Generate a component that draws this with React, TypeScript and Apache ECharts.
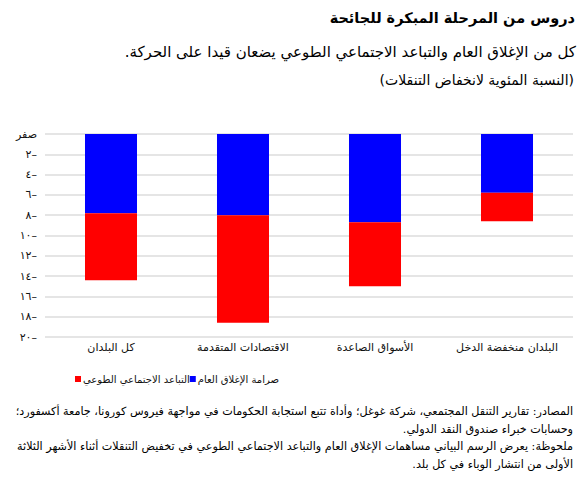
import React, { useEffect, useRef } from "react";
import * as echarts from "echarts";

const categories = [
  "كل البلدان",
  "الاقتصادات المتقدمة",
  "الأسواق الصاعدة",
  "البلدان منخفضة الدخل",
];
const lockdownValues = [-7.8, -8.0, -8.7, -5.8];
const voluntaryValues = [-6.6, -10.6, -6.3, -2.8];

const seriesNames = ["صرامة الإغلاق العام", "التباعد الاجتماعي الطوعي"];

const titleText = "دروس من المرحلة المبكرة للجائحة";
const subtitleText = "كل من الإغلاق العام والتباعد الاجتماعي الطوعي يضعان قيدا على الحركة.\u200F";
const unitText = "(النسبة المئوية لانخفاض التنقلات)";
const noteLines = [
  "المصادر: تقارير التنقل المجتمعي، شركة غوغل؛ وأداة تتبع استجابة الحكومات في مواجهة فيروس كورونا، جامعة أكسفورد؛",
  "وحسابات خبراء صندوق النقد الدولي.\u200F",
  "ملحوظة: يعرض الرسم البياني مساهمات الإغلاق العام والتباعد الاجتماعي الطوعي في تخفيض التنقلات أثناء الأشهر الثلاثة",
  "الأولى من انتشار الوباء في كل بلد.\u200F",
];

const FONT = '"DejaVu Sans", Arial, sans-serif';

const arabicDigits = ["٠", "١", "٢", "٣", "٤", "٥", "٦", "٧", "٨", "٩"];
const toArabic = (n: number) =>
  String(n)
    .split("")
    .map((c) => (c >= "0" && c <= "9" ? arabicDigits[+c] : c))
    .join("");

export default function App() {
  const ref = useRef<HTMLDivElement>(null);
  useEffect(() => {
    document.body.style.margin = "0";
    const chart = echarts.init(ref.current!, undefined, { renderer: "svg" });
    const noteY = [411, 429, 446, 464];
    const txt = (text: string, x: number, y: number, font: string) => ({
      type: "text",
      x,
      y,
      style: {
        text,
        font,
        fill: "#000",
        textAlign: "right",
        align: "right",
        textVerticalAlign: "middle",
        verticalAlign: "middle",
      },
    });
    chart.setOption({
      animation: false,
      backgroundColor: "#ffffff",
      textStyle: { fontFamily: FONT },
      grid: { left: 45, right: 13, top: 134, bottom: 156, containLabel: false },
      legend: {
        data: [seriesNames[1], seriesNames[0]],
        left: 75,
        top: 374,
        padding: 0,
        itemGap: 0,
        itemWidth: 6,
        itemHeight: 6,
        icon: "rect",
        textStyle: {
          fontSize: 10,
          color: "#111",
          fontFamily: FONT,
          padding: [0, 0, 0, -3],
        },
      },
      xAxis: {
        type: "category",
        data: categories,
        position: "bottom",
        axisLine: { show: false },
        axisTick: { show: false },
        axisLabel: {
          interval: 0,
          fontSize: 11,
          color: "#111",
          margin: 5,
          fontFamily: FONT,
        },
      },
      yAxis: {
        type: "value",
        min: -20,
        max: 0,
        interval: 2,
        axisLine: { show: false },
        axisTick: { show: false },
        splitLine: { lineStyle: { color: "#dcdcdc", width: 1.5 } },
        axisLabel: {
          fontSize: 11,
          color: "#111",
          margin: 8,
          fontFamily: FONT,
          formatter: (v: number) => (v === 0 ? "صفر" : toArabic(Math.abs(v)) + "–"),
        },
      },
      series: [
        {
          name: seriesNames[0],
          type: "bar",
          stack: "total",
          data: lockdownValues,
          barWidth: "39.4%",
          itemStyle: { color: "#0000ff" },
        },
        {
          name: seriesNames[1],
          type: "bar",
          stack: "total",
          data: voluntaryValues,
          barWidth: "39.4%",
          itemStyle: { color: "#ff0000" },
        },
      ],
      graphic: [
        txt(titleText, 575, 18, `bold 14.5px ${FONT}`),
        txt(subtitleText, 576, 52, `15px ${FONT}`),
        txt(unitText, 574, 80, `14px ${FONT}`),
        ...noteLines.map((t, i) => txt(t, 573, noteY[i], `11.2px ${FONT}`)),
      ],
    });
    return () => chart.dispose();
  }, []);
  return <div ref={ref} style={{ width: 586, height: 493 }} />;
}
